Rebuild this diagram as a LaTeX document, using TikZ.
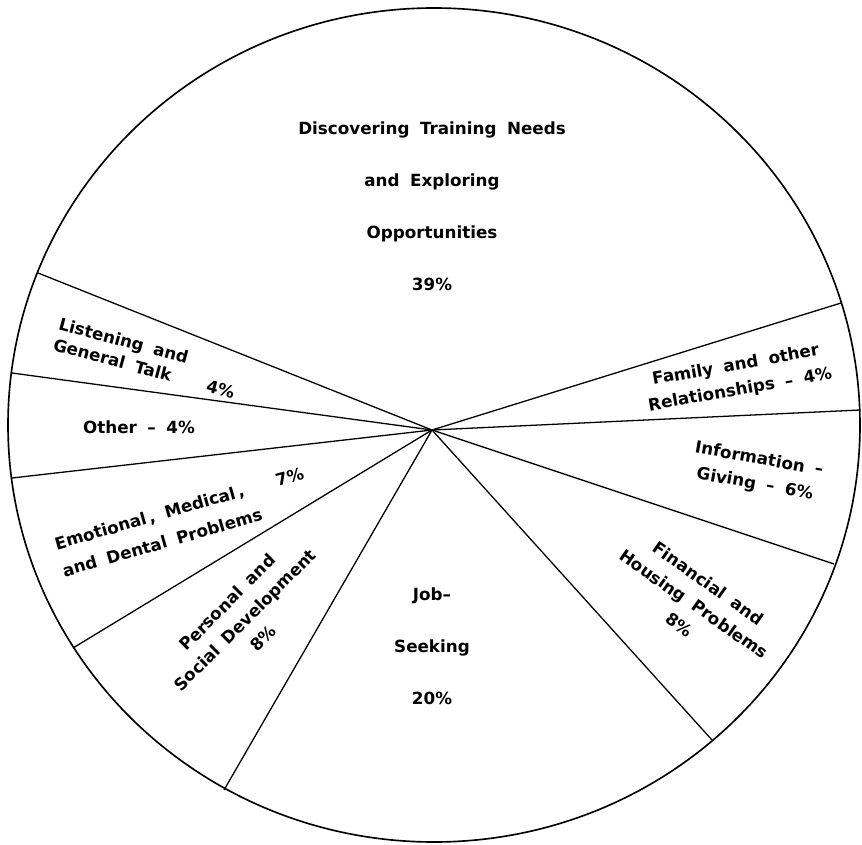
\documentclass[tikz,border=0pt]{standalone}
\usepackage{fontspec}
\setmainfont{DejaVu Sans}[WordSpace=1.8]

\begin{document}
\begin{tikzpicture}[x=0.03cm, y=-0.03cm,
    slice/.style={line width=1.1pt},
    lbl/.style={font=\bfseries\fontsize{14.3}{21.5}\selectfont, align=center, inner sep=0pt},
    big/.style={font=\bfseries\fontsize{14.3}{44.4}\selectfont, align=center, inner sep=0pt}]
    \fill[white] (0,0) rectangle (862,845);
    \useasboundingbox (0,0) rectangle (862,845);

    % Outer rim
    \draw[line width=1.4pt] (434,425) ellipse [x radius=426, y radius=417];

    % Hub and rim points
    \coordinate (hub) at (432,430);
    \coordinate (r1) at (38,273);
    \coordinate (r2) at (12,373);
    \coordinate (r3) at (12,478);
    \coordinate (r4) at (73,648);
    \coordinate (r5) at (224,790);
    \coordinate (r6) at (712,740);
    \coordinate (r7) at (834,564);
    \coordinate (r8) at (860,410);
    \coordinate (r9) at (841,303);
    \foreach \i in {1,...,9}
        \draw[slice] (hub) -- (r\i);

    % Top slice
    \node[big] (disc) at (432,206) {Discovering Training Needs\\and Exploring\\Opportunities\\39\%};

    % Left slices
    \node[lbl, rotate=-15, align=left, font=\bfseries\fontsize{14.3}{18.5}\selectfont] (listen) at (147,358) {Listening and\\General Talk\hspace{2.2em}4\%};
    \node[lbl] (other) at (139,427) {Other -- 4\%};
    \node[lbl, rotate=16, align=left, font=\bfseries\fontsize{14.3}{24}\selectfont] (emot) at (183,522) {Emotional\,, Medical\,,\hspace{2em}7\%\\and Dental Problems};
    \node[lbl, rotate=45] (pers) at (245,620) {Personal and\\Social Development\\8\%};

    % Bottom slice
    \node[big] (job) at (432,646) {Job--\\Seeking\\20\%};

    % Right slices
    \node[lbl, rotate=-35] (fin) at (694,604) {Financial and\\Housing Problems\\8\%};
    \node[lbl, rotate=-10] (info) at (757,472) {Information --\\Giving -- 6\%};
    \node[lbl, rotate=10] (fam) at (738,378) {Family and other\\Relationships -- 4\%};
\end{tikzpicture}
\end{document}
